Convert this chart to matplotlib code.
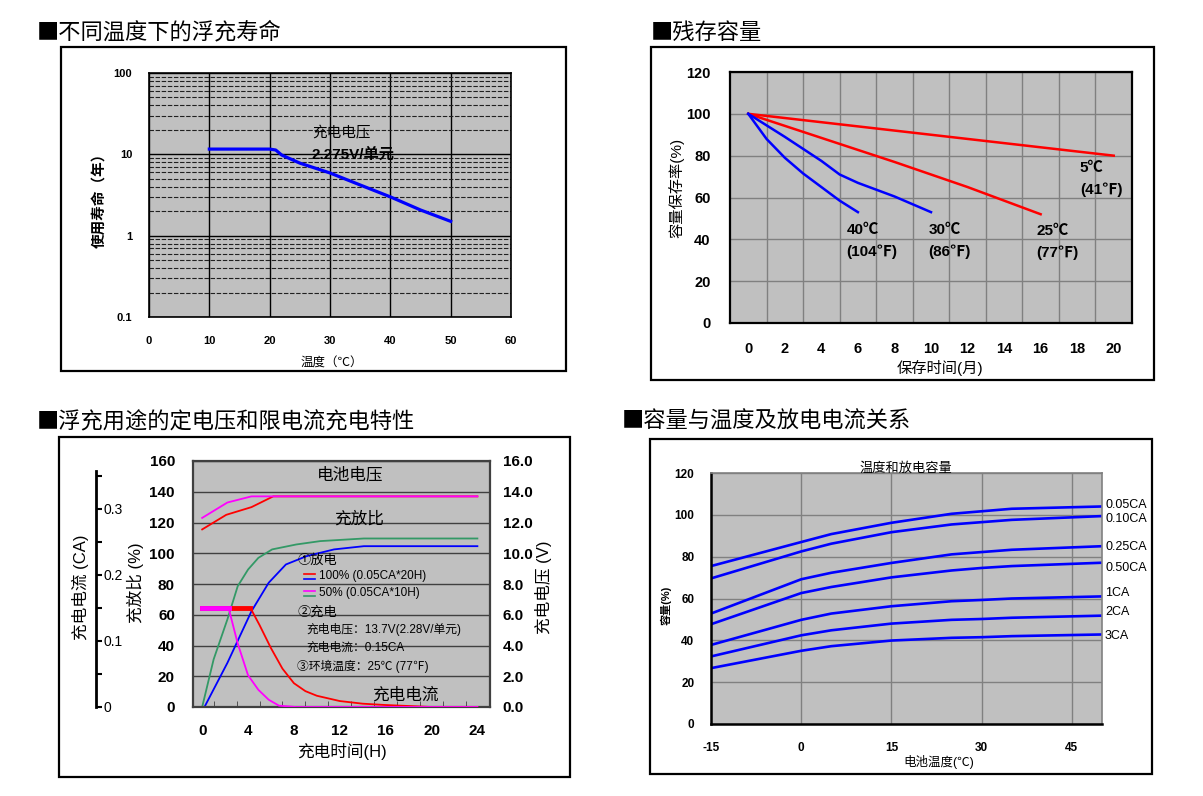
import numpy as np
import matplotlib
matplotlib.use("Agg")
import matplotlib.pyplot as plt
from matplotlib.patches import Rectangle
from matplotlib.lines import Line2D
from matplotlib.ticker import LogLocator, NullFormatter

plt.rcParams['font.family'] = ['Liberation Sans', 'Noto Sans CJK SC', 'DejaVu Sans']
CJK = ['Noto Sans CJK SC', 'DejaVu Sans']

W, H = 1203, 796
BG = '#c0c0c0'

# ---- float life vs temperature ----
life_temp = [10, 20, 21, 22, 25, 30, 35, 40, 45, 50]
life_years = [11.6, 11.6, 11.3, 9.8, 7.8, 5.9, 4.2, 3.0, 2.07, 1.5]

# ---- residual capacity vs storage months ----
store_t40 = [0, 1, 2, 3, 4, 5, 6]
store_c40 = [100, 88, 79, 71.5, 65, 58.5, 53]
store_t30 = [0, 2, 4, 5, 6, 8, 10]
store_c30 = [100, 89, 77.5, 71, 67, 60.5, 53]
store_t25 = [0, 4, 8, 12, 16]
store_c25 = [100, 88.5, 77, 65, 52]
store_t5 = [0, 20]
store_c5 = [100, 80]

# ---- charge characteristics ----
ratio_h_50 = [0, 1, 2.2, 3.1, 4, 4.9, 6.1, 8.2, 10.3, 14.1, 24]
ratio_50 = [0, 31, 57, 78.6, 89.4, 97, 102.5, 105.7, 107.9, 109.6, 109.6]
ratio_h_100 = [0.2, 2.2, 4.3, 5.8, 7.3, 9.1, 11.5, 14.1, 24]
ratio_100 = [0, 28.7, 62.3, 80.8, 92.7, 98.1, 102.5, 104.6, 104.6]
volt_h_100 = [0, 2.1, 4.3, 6.2, 24]
volt_100 = [11.55, 12.5, 13.0, 13.7, 13.7]
volt_h_50 = [0, 2.2, 4.3, 24]
volt_50 = [12.3, 13.3, 13.7, 13.7]
cur_h_100 = [0, 4.2, 5, 6, 7, 8, 9, 10, 12, 14, 16, 18, 20, 24]
cur_100 = [0.15, 0.15, 0.124, 0.089, 0.058, 0.036, 0.024, 0.017, 0.009, 0.005, 0.003, 0.0015, 0, 0]
cur_h_50 = [0, 2.3, 3.1, 4, 4.9, 5.8, 6.7, 8.2, 24]
cur_50 = [0.15, 0.15, 0.096, 0.048, 0.026, 0.011, 0.002, 0, 0]

# ---- capacity vs temperature & discharge rate ----
temp_c = [-15, 0, 5, 15, 25, 30, 35, 50]
cap_005 = [75.5, 87, 90.8, 96.2, 100.5, 101.7, 102.9, 104]
cap_010 = [69.6, 82.5, 86.2, 91.7, 95.4, 96.5, 97.6, 99.4]
cap_025 = [52.8, 69.2, 72.3, 77, 81.1, 82.2, 83.3, 85]
cap_050 = [47.7, 62.6, 65.5, 70.1, 73.4, 74.6, 75.5, 77.1]
cap_1 = [37.8, 49.8, 52.8, 56.3, 58.7, 59.3, 60, 61]
cap_2 = [32.3, 42.4, 44.8, 48, 49.8, 50.2, 50.8, 51.8]
cap_3 = [26.7, 35, 37.2, 39.9, 41.2, 41.5, 42, 42.8]
rate_names = ['0.05CA', '0.10CA', '0.25CA', '0.50CA', '1CA', '2CA', '3CA']


fig = plt.figure(figsize=(W / 100, H / 100), dpi=100)


def fx(px):
    return px / W


def fy(py):
    return 1 - py / H


def axes_at(l, t, r, b):
    return fig.add_axes([l / W, 1 - b / H, (r - l) / W, (b - t) / H])


def box(l, t, r, b):
    fig.add_artist(Rectangle((fx(l), fy(b)), (r - l) / W, (b - t) / H,
                             transform=fig.transFigure, fill=False,
                             edgecolor='black', lw=1.6))


def frame(ax, color='black', lw=1.4):
    for s in ax.spines.values():
        s.set_color(color)
        s.set_linewidth(lw)


# panel boxes and titles
box(61, 47, 566, 371)
box(651, 47, 1154, 380)
box(59, 437, 570, 777)
box(650, 439, 1152, 774)
fig.text(fx(37), fy(32), '■不同温度下的浮充寿命', fontsize=16, va='center', family=CJK)
fig.text(fx(651), fy(32), '■残存容量', fontsize=16, va='center', family=CJK)
fig.text(fx(37), fy(422), '■浮充用途的定电压和限电流充电特性', fontsize=16, va='center',
         family=CJK)
fig.text(fx(622), fy(421), '■容量与温度及放电电流关系', fontsize=16, va='center', family=CJK)

### TOP LEFT: float life ###
ax1 = axes_at(149, 73, 511, 317)
ax1.set_facecolor(BG)
ax1.set_yscale('log')
ax1.set_xlim(0, 60)
ax1.set_ylim(0.1, 100)
ax1.set_xticks(range(0, 61, 10), [str(v) for v in range(0, 61, 10)],
               fontweight='bold', fontsize=8)
ax1.set_yticks([0.1, 1, 10, 100], ['0.1', '1', '10', '100'],
               fontweight='bold', fontsize=8)
ax1.yaxis.set_minor_locator(LogLocator(base=10, subs=np.arange(2, 10)))
ax1.yaxis.set_minor_formatter(NullFormatter())
ax1.grid(which='major', color='black', lw=1.0)
ax1.grid(which='minor', axis='y', color='#202020', lw=0.8, linestyle=(0, (4, 1.5)))
ax1.tick_params(which='both', length=0)
ax1.tick_params(axis='x', pad=14)
ax1.tick_params(axis='y', pad=12)
frame(ax1, lw=1.2)
ax1.plot(life_temp, life_years, color='#0000ff', lw=2.3)
ax1.text(27, 18.3, '充电电压', fontsize=10.5, va='center')
ax1.text(27, 9.8, '2.275V/单元', fontsize=11, fontweight='bold', va='center')
fig.text(fx(100), fy(197), '使用寿命（年）', fontsize=10.5, fontweight='bold',
         rotation=90, ha='center', va='center')
fig.text(fx(332), fy(364), '温度（℃）', fontsize=9, ha='center', va='center')

### TOP RIGHT: residual capacity ###
ax2 = axes_at(730, 72, 1132, 323)
ax2.set_facecolor(BG)
ax2.set_xlim(-1, 21)
ax2.set_ylim(0, 120)
ax2.set_xticks(range(0, 21, 2), [str(v) for v in range(0, 21, 2)],
               fontweight='bold', fontsize=10.5)
ax2.set_xticks(range(1, 20, 2), minor=True)
ax2.set_yticks(range(0, 121, 20), [str(v) for v in range(0, 121, 20)],
               fontweight='bold', fontsize=10.5)
ax2.grid(which='minor', axis='x', color='#808080', lw=1)
ax2.grid(which='major', axis='y', color='#808080', lw=1)
ax2.tick_params(which='both', length=0)
ax2.tick_params(axis='x', pad=14)
ax2.tick_params(axis='y', pad=14)
frame(ax2, lw=1.6)
ax2.plot(store_t5, store_c5, color='#ff0000', lw=1.8)
ax2.plot(store_t25, store_c25, color='#ff0000', lw=1.8)
ax2.plot(store_t30, store_c30, color='#0000ff', lw=1.8)
ax2.plot(store_t40, store_c40, color='#0000ff', lw=1.8)
for x0, y0, l1, l2 in [(18.15, 73.9, '5℃', '(41℉)'),
                       (5.37, 44.3, '40℃', '(104℉)'),
                       (9.85, 44.3, '30℃', '(86℉)'),
                       (15.75, 43.8, '25℃', '(77℉)')]:
    ax2.text(x0, y0, l1, fontsize=11, fontweight='bold', va='center')
    ax2.text(x0, y0 - 10, l2, fontsize=11, fontweight='bold', va='center')
fig.text(fx(676), fy(188), '容量保存率(%)', fontsize=11, rotation=90,
         ha='center', va='center')
fig.text(fx(940), fy(368), '保存时间(月)', fontsize=11, ha='center', va='center')

### BOTTOM LEFT: charge characteristics ###
ax3 = axes_at(193, 461, 490, 707)
ax3.set_facecolor(BG)
ax3.set_xlim(-0.8, 25.1)
ax3.set_ylim(0, 160)
ax3.set_xticks(range(0, 25, 4), [str(v) for v in range(0, 25, 4)],
               fontweight='bold', fontsize=11)
ax3.set_xticks(range(1, 24, 2), minor=True)
ax3.set_yticks(range(0, 161, 20), [str(v) for v in range(0, 161, 20)],
               fontweight='bold', fontsize=11)
ax3.grid(axis='y', color='#404040', lw=1)
ax3.tick_params(axis='x', which='minor', direction='in', length=4, color='#404040')
ax3.tick_params(axis='x', which='major', length=0, pad=12)
ax3.tick_params(axis='y', length=0, pad=13)
frame(ax3, color='#404040', lw=1.6)
ax3.plot(ratio_h_50, ratio_50, color='#339966', lw=1.3)
ax3.plot(ratio_h_100, ratio_100, color='#0000ff', lw=1.3)

axv = ax3.twinx()
axv.set_ylim(0, 16)
vt = np.arange(0, 16.1, 2)
axv.set_yticks(vt, ['%.1f' % v for v in vt], fontweight='bold', fontsize=11)
axv.tick_params(axis='y', length=0, pad=9)
for s in axv.spines.values():
    s.set_visible(False)
axv.plot(volt_h_100, volt_100, color='#ff0000', lw=1.3)
axv.plot(volt_h_50, volt_50, color='#ff00ff', lw=1.3)

axc = ax3.twinx()
axc.set_ylim(0, 0.372)
ct = np.arange(0, 0.351, 0.05)
axc.set_yticks(ct, ['0', '', '0.1', '', '0.2', '', '0.3', ''],
               fontweight='bold', fontsize=11)
for s in ['left', 'top', 'bottom']:
    axc.spines[s].set_visible(False)
axc.spines['right'].set_position(('axes', (96 - 193) / 297))
axc.spines['right'].set_bounds(0, 0.357)
axc.spines['right'].set_linewidth(2)
axc.tick_params(axis='y', direction='out', length=4, width=1.5, pad=1.5)
axc.plot(cur_h_100, cur_100, color='#ff0000', lw=1.3)
axc.plot(cur_h_100[:2], cur_100[:2], color='#ff0000', lw=3.5)
axc.plot(cur_h_50, cur_50, color='#ff00ff', lw=1.3)
axc.plot(cur_h_50[:2], cur_50[:2], color='#ff00ff', lw=3.5)

ax3.text(12.9, 151, '电池电压', fontsize=12, ha='center', va='center')
ax3.text(13.7, 122.4, '充放比', fontsize=12, ha='center', va='center')
ax3.text(17.7, 8, '充电电流', fontsize=12, ha='center', va='center')
ax3.text(8.3, 95, '①放电', fontsize=9.5, va='center')
ax3.text(10.2, 85, '100% (0.05CA*20H)', fontsize=8.5, va='center')
ax3.text(10.2, 74, '50% (0.05CA*10H)', fontsize=8.5, va='center')
ax3.text(8.3, 61.7, '②充电', fontsize=9.5, va='center')
ax3.text(9.06, 50.4, '充电电压：13.7V(2.28V/单元)', fontsize=8.5, va='center')
ax3.text(9.06, 38.6, '充电电流：0.15CA', fontsize=8.5, va='center')
ax3.text(8.3, 26.5, '③环境温度：25℃ (77℉)', fontsize=8.5, va='center')
# legend swatches
for yy, col in [(86.2, '#ff0000'), (83.4, '#0000ff'), (75.2, '#ff00ff'), (72.4, '#339966')]:
    ax3.add_line(Line2D([8.9, 9.8], [yy, yy], color=col, lw=1.2))

fig.text(fx(80), fy(587), '充电电流 (CA)', fontsize=12, rotation=90,
         ha='center', va='center')
fig.text(fx(135), fy(583), '充放比 (%)', fontsize=12, rotation=90,
         ha='center', va='center')
fig.text(fx(544), fy(587), '充电电压 (V)', fontsize=12, rotation=90,
         ha='center', va='center')
fig.text(fx(342), fy(751), '充电时间(H)', fontsize=12, ha='center', va='center')

### BOTTOM RIGHT: capacity vs temperature ###
ax4 = axes_at(711, 473, 1102, 724)
ax4.set_facecolor(BG)
ax4.set_xlim(-15, 50)
ax4.set_ylim(0, 120)
ax4.set_xticks(range(-15, 46, 15), [str(v) for v in range(-15, 46, 15)],
               fontweight='bold', fontsize=8.5)
ax4.set_yticks(range(0, 121, 20), [str(v) for v in range(0, 121, 20)],
               fontweight='bold', fontsize=8.5)
ax4.grid(color='#808080', lw=1)
ax4.tick_params(length=0)
ax4.tick_params(axis='x', pad=13)
ax4.tick_params(axis='y', pad=12)
for s in ['top', 'right']:
    ax4.spines[s].set_color('#808080')
    ax4.spines[s].set_linewidth(1.2)
for s in ['left', 'bottom']:
    ax4.spines[s].set_color('black')
    ax4.spines[s].set_linewidth(1.8)
label_dy = [0.6, -1.2, -0.4, -2.7, 1.6, 1.9, -0.5]
for series, name, dy in zip([cap_005, cap_010, cap_025, cap_050, cap_1, cap_2, cap_3],
                            rate_names, label_dy):
    ax4.plot(temp_c, series, color='#0000ff', lw=1.9)
    ax4.text(50.5, series[-1] + dy, name, fontsize=9, va='center')
fig.text(fx(906), fy(469), '温度和放电容量', fontsize=9.5, ha='center', va='center')
fig.text(fx(666), fy(605), '容量(%)', fontsize=8, fontweight='bold', rotation=90,
         ha='center', va='center')
fig.text(fx(939), fy(762), '电池温度(℃)', fontsize=9, ha='center', va='center')

fig.savefig('out.png', dpi=100)
